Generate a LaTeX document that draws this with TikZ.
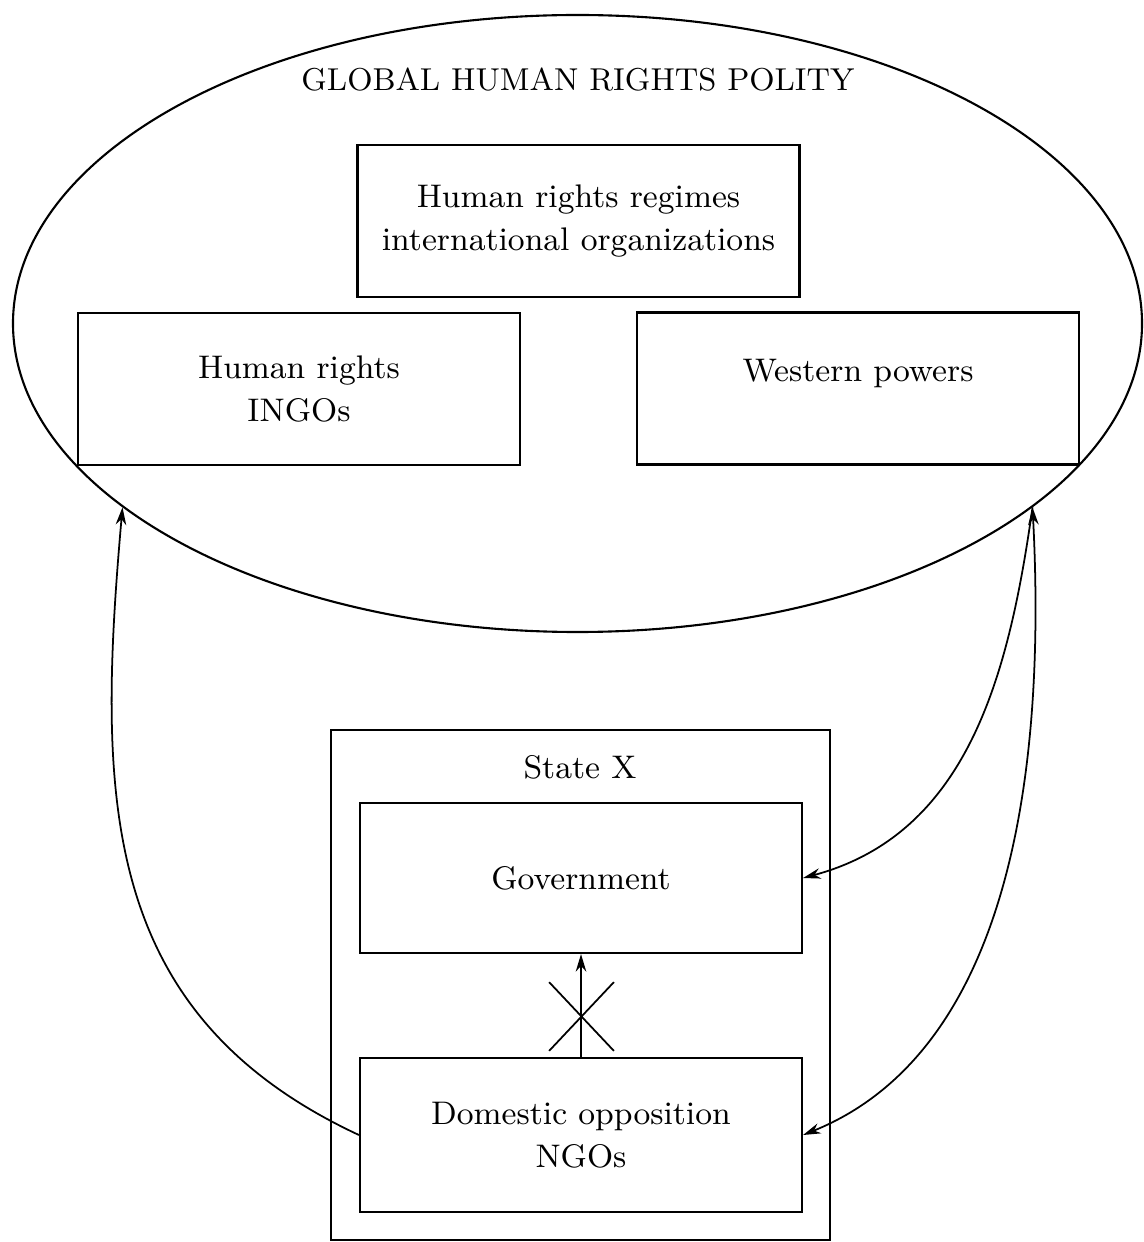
\documentclass[tikz,border=0pt]{standalone}
\usepackage{tikz}
\usetikzlibrary{arrows.meta,shapes.geometric,shapes.misc}

\begin{document}
\begin{tikzpicture}[
  x=1cm, y=1cm,
  >={Stealth[length=5pt,width=3pt]},
  actor/.style  = {rectangle, draw, line width=0.6pt, align=center, inner sep=0pt,
                   minimum width=4.42cm, minimum height=1.52cm,
                   font=\fontsize{9.3}{12.2}\selectfont},
  label/.style  = {font=\fontsize{9}{12.2}\selectfont},
  flow/.style   = {->, line width=0.5pt},
  twoway/.style = {<->, line width=0.5pt},
]
\useasboundingbox (0,0) rectangle (11.43,-12.42);

% global level
\node[ellipse, draw, line width=0.6pt, inner sep=0pt,
      minimum width=11.29cm, minimum height=6.17cm] (polity) at (5.775,-3.235) {};
\node[label] (title) at (5.78,-0.80) {GLOBAL HUMAN RIGHTS POLITY};
\node[actor] (regimes) at (5.785,-2.21) {Human rights regimes\\international organizations};
\node[actor] (ingos)   at (2.99,-3.89)  {Human rights\\INGOs};
\node[actor, text depth=0.36cm] (west) at (8.58,-3.885) {Western powers};

% domestic level
\node[rectangle, draw, line width=0.6pt, inner sep=0pt,
      minimum width=4.99cm, minimum height=5.10cm] (state) at (5.805,-9.85) {};
\node[label, font=\fontsize{9.3}{12.2}\selectfont] (statename) at (5.80,-7.67) {State X};
\node[actor, minimum height=1.50cm] (gov) at (5.81,-8.78)  {Government};
\node[actor, minimum height=1.54cm] (dom) at (5.81,-11.35) {Domestic opposition\\NGOs};

% blocked channel
\draw[flow] (dom) -- (gov);
\node[cross out, draw, line width=0.5pt, inner sep=0pt,
      minimum width=0.63cm, minimum height=0.67cm] (block) at (5.815,-10.165) {};

% boomerang
\draw[flow] (dom.west) to[out=155, in=-95, looseness=1.1] (polity.202);
\draw[flow] (polity.338) to[out=-98, in=15] (gov.east);
\draw[twoway] (polity.338) to[out=-87, in=22, looseness=0.9] (dom.east);
\end{tikzpicture}
\end{document}
